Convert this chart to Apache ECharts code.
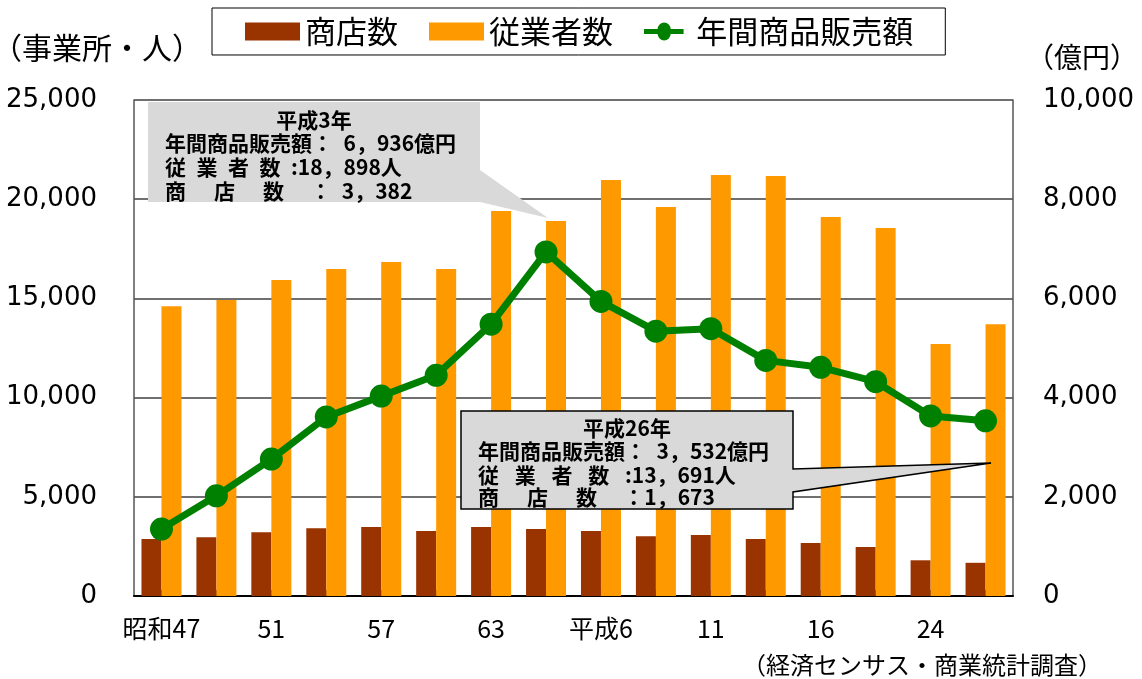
<!DOCTYPE html>
<html>
<head>
<meta charset="utf-8">
<script src="https://cdn.jsdelivr.net/npm/echarts@6/dist/echarts.min.js"></script>
<style>
html,body{margin:0;padding:0;background:#fff;}
#c{width:1142px;height:679px;}
</style>
</head>
<body>
<div id="c"></div>
<script>
// ---- data ----
const categories = ['昭和47','49','51','54','57','60','63','平成3','平成6','9','11','14','16','19','24','26'];
const shopCounts = [2870, 2960, 3210, 3410, 3480, 3280, 3480, 3382, 3280, 3010, 3070, 2870, 2670, 2470, 1800, 1673];
const employees  = [14610, 14920, 15930, 16480, 16830, 16480, 19400, 18898, 20970, 19610, 21220, 21170, 19100, 18550, 12700, 13691];
const salesOku   = [1350, 2020, 2760, 3610, 4030, 4450, 5480, 6936, 5940, 5340, 5390, 4750, 4610, 4320, 3630, 3532];
const xTickLabels = ['昭和47','','51','','57','','63','','平成6','','11','','16','','24',''];
const seriesNames = ['商店数','従業者数','年間商品販売額'];

const CJK = '"Noto Sans CJK JP"';
const chart = echarts.init(document.getElementById('c'), null, {renderer:'canvas'});

function txt(x, y, text, size, opts) {
  opts = opts || {};
  return {
    type: 'text', x: x, y: y, z: 110,
    style: {
      text: text,
      font: (opts.bold ? 'bold ' : '') + size + 'px ' + CJK,
      fill: '#000',
      align: opts.align || 'left',
      verticalAlign: 'middle'
    }
  };
}

const lineIcon = 'path://M0,5.5L19,5.5A9,9 0 0 1 37,5.5L55,5.5L55,12.5L37,12.5A9,9 0 0 1 19,12.5L0,12.5Z M18,9A9,9 0 1 1 37,9A9,9 0 1 1 18,9Z';

const option = {
  animation: false,
  backgroundColor: '#fff',
  grid: { left: 134, right: 129, top: 100, bottom: 83, containLabel: false },
  legend: {
    left: 212, top: 8,
    data: [
      { name: seriesNames[0], icon: 'rect' },
      { name: seriesNames[1], icon: 'rect' },
      { name: seriesNames[2], icon: lineIcon, itemStyle: { color: '#008000' } }
    ],
    itemWidth: 55, itemHeight: 18, itemGap: 31,
    padding: [8, 32, 8, 33],
    borderColor: '#000', borderWidth: 1,
    textStyle: { fontFamily: CJK, fontSize: 31, color: '#000' }
  },
  xAxis: {
    type: 'category',
    data: categories,
    axisLine: { lineStyle: { color: '#000', width: 2 } },
    axisTick: { show: true, inside: true, length: 6, alignWithLabel: true, interval: 0, lineStyle: { color: '#000', width: 1.5 } },
    axisLabel: {
      interval: 0, margin: 20,
      fontFamily: CJK, fontSize: 25, color: '#000',
      formatter: function (v, i) { return xTickLabels[i]; }
    }
  },
  yAxis: [
    {
      type: 'value', min: 0, max: 25000, interval: 5000,
      axisLine: { show: true, lineStyle: { color: '#555', width: 1.5 } },
      axisTick: { show: false },
      splitLine: { show: true, lineStyle: { color: '#404040', width: 1.5 } },
      axisLabel: {
        margin: 37, fontFamily: 'DejaVu Sans', fontSize: 26, color: '#000',
        formatter: function (v) { return v.toLocaleString('en-US'); }
      }
    },
    {
      type: 'value', min: 0, max: 10000, interval: 2000, position: 'right',
      axisLine: { show: true, lineStyle: { color: '#555', width: 1.5 } },
      axisTick: { show: false },
      splitLine: { show: false },
      axisLabel: {
        margin: 30, fontFamily: 'DejaVu Sans', fontSize: 26, color: '#000',
        formatter: function (v) { return v.toLocaleString('en-US'); }
      }
    }
  ],
  series: [
    {
      name: seriesNames[0], type: 'bar', data: shopCounts,
      barWidth: 20, barGap: '0%',
      itemStyle: { color: '#993300' }
    },
    {
      name: seriesNames[1], type: 'bar', data: employees,
      barWidth: 20, barGap: '0%',
      itemStyle: { color: '#FF9900' }
    },
    {
      name: seriesNames[2], type: 'line', yAxisIndex: 1, data: salesOku,
      symbol: 'circle', symbolSize: 23, z: 5,
      lineStyle: { color: '#008000', width: 7 },
      itemStyle: { color: '#008000' }
    }
  ],
  graphic: [
    txt(-8, 48, '（事業所・人）', 30),
    txt(1026, 57, '（億円）', 28),
    txt(1102, 665, '（経済センサス・商業統計調査）', 24, { align: 'right' }),
    // callout 1 (平成3年)
    {
      type: 'polygon', z: 100,
      shape: { points: [[148,102],[480,102],[480,170],[548,218],[480,202],[148,202]] },
      style: { fill: '#d9d9d9', stroke: null }
    },
    txt(314, 120, '平成3年', 21, { bold: true, align: 'center' }),
    txt(165, 143, '年間商品販売額：\u20026，936億円', 21, { bold: true }),
    txt(165, 167, '従\u2002業\u2002者\u2002数\u2002:18，898人', 21, { bold: true }),
    txt(165, 191, '商\u3000\u2004店\u3000\u2004数\u3000\u2005：\u20023，382', 21, { bold: true }),
    // callout 2 (平成26年)
    {
      type: 'polygon', z: 100,
      shape: { points: [[461,411],[793,411],[793,469],[991,463],[793,492],[793,509],[461,509]] },
      style: { fill: '#d9d9d9', stroke: '#000', lineWidth: 1.5 }
    },
    txt(627, 428, '平成26年', 21, { bold: true, align: 'center' }),
    txt(478, 451, '年間商品販売額：\u20023，532億円', 21, { bold: true }),
    txt(478, 475, '従\u2002\u2005業\u2002\u2005者\u2002\u2005数\u2002\u2005:13，691人', 21, { bold: true }),
    txt(478, 497, '商\u3000\u2004店\u3000\u2004数\u3000\u2005：1，673', 21, { bold: true })
  ]
};
chart.setOption(option);
</script>
</body>
</html>
